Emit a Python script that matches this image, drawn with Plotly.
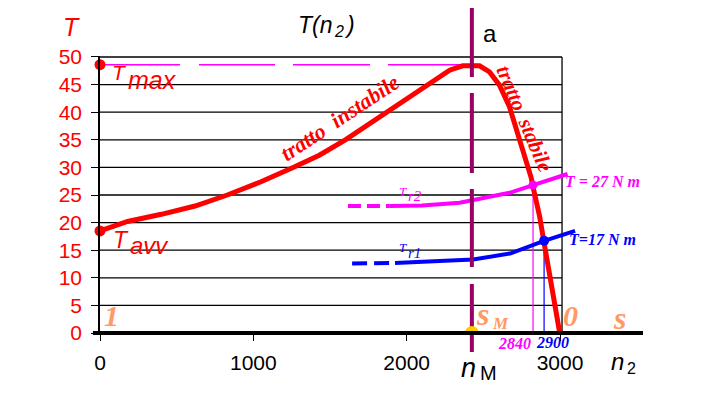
import plotly.graph_objects as go

# ---------------- data ----------------
n_curve = [0, 180, 400, 620, 830, 1050, 1270, 1430, 1600, 1760, 1840, 1970, 2150, 2280,
           2365, 2415, 2475, 2540, 2605, 2670, 2725, 2780, 2812, 2823, 2867, 2895, 2943, 2998]
T_curve = [18.5, 20.2, 21.5, 23.0, 25.0, 27.4, 30.1, 32.2, 35.0, 38.0, 39.5, 41.9, 45.2, 47.6,
           48.4, 48.5, 48.4, 47.3, 44.9, 41.0, 36.2, 31.3, 28.1, 26.6, 21.1, 16.5, 8.4, 0.0]

n_tr2_dash = [1617, 1890]
T_tr2_dash = [23.0, 23.0]
n_tr2 = [1890, 2100, 2345, 2430, 2671, 2824, 3049]
T_tr2 = [23.0, 23.1, 23.6, 24.1, 25.4, 26.8, 28.8]

n_tr1_dash = [1644, 1924]
T_tr1_dash = [12.6, 12.7]
n_tr1 = [1924, 2087, 2348, 2433, 2674, 2896, 3098]
T_tr1 = [12.7, 12.9, 13.1, 13.3, 14.4, 16.7, 18.5]

op2 = (2824, 26.8)   # working point with Tr2
op1 = (2896, 16.7)   # working point with Tr1
op_labels = ["2840", "2900"]

T_max = 48.6
T_avv = 18.5
n_M = 2425
n_edge = 3013

x_ticks = [0, 1000, 2000, 3000]
y_ticks = [0, 5, 10, 15, 20, 25, 30, 35, 40, 45, 50]

RED = "#FF0000"
MAG = "#FF00FF"
BLUE = "#0000FF"
PURPLE = "#990066"
ORANGE = "#FF9966"
YELLOW = "#FFCC00"
SANS = "Liberation Sans"
SERIF = "Liberation Serif"

fig = go.Figure()

# Tmax dashed horizontal reference
fig.add_trace(go.Scatter(x=[0, n_M], y=[T_max, T_max], mode="lines",
                         line=dict(color=MAG, width=1.5, dash="80px,19px,76px,18px,77px,18px,84px,60px"),
                         hoverinfo="skip"))
# thin verticals from working points
fig.add_trace(go.Scatter(x=[op2[0], op2[0]], y=[op2[1], 0], mode="lines",
                         line=dict(color=MAG, width=1.2), hoverinfo="skip"))
fig.add_trace(go.Scatter(x=[op1[0], op1[0]], y=[op1[1], 0], mode="lines",
                         line=dict(color=BLUE, width=1.2), hoverinfo="skip"))

# load torque curves
fig.add_trace(go.Scatter(x=n_tr2_dash, y=T_tr2_dash, mode="lines",
                         line=dict(color=MAG, width=4, dash="13px,6px"), hoverinfo="skip"))
fig.add_trace(go.Scatter(x=n_tr2, y=T_tr2, mode="lines",
                         line=dict(color=MAG, width=4), hoverinfo="skip"))
fig.add_trace(go.Scatter(x=n_tr1_dash, y=T_tr1_dash, mode="lines",
                         line=dict(color=BLUE, width=4, dash="15px,7px"), hoverinfo="skip"))
fig.add_trace(go.Scatter(x=n_tr1, y=T_tr1, mode="lines",
                         line=dict(color=BLUE, width=4), hoverinfo="skip"))

# motor torque curve
fig.add_trace(go.Scatter(x=n_curve, y=T_curve, mode="lines",
                         line=dict(color=RED, width=5), hoverinfo="skip"))

# points
fig.add_trace(go.Scatter(x=[0, 0], y=[T_max, T_avv], mode="markers",
                         marker=dict(color=RED, size=11), cliponaxis=False, hoverinfo="skip"))
fig.add_trace(go.Scatter(x=[op2[0]], y=[op2[1]], mode="markers",
                         marker=dict(color=MAG, size=9), cliponaxis=False, hoverinfo="skip"))
fig.add_trace(go.Scatter(x=[op1[0]], y=[op1[1]], mode="markers",
                         marker=dict(color=BLUE, size=10), cliponaxis=False, hoverinfo="skip"))
fig.add_trace(go.Scatter(x=[op2[0], op1[0]], y=[-0.4, -0.4], mode="markers",
                         marker=dict(color=[MAG, BLUE], size=9, symbol="triangle-down"),
                         cliponaxis=False, hoverinfo="skip"))

shapes = []
for t in y_ticks[1:]:
    shapes.append(dict(type="line", xref="x", yref="y", x0=0, x1=n_edge, y0=t, y1=t,
                       line=dict(color="black", width=1.3), layer="below"))
shapes.append(dict(type="line", xref="x", yref="y", x0=n_edge, x1=n_edge, y0=0, y1=50,
                   line=dict(color="black", width=1.3), layer="below"))
# nM vertical dashed line
shapes.append(dict(type="line", xref="x", yref="paper", x0=n_M, x1=n_M, y0=1.173, y1=-0.0686,
                   line=dict(color=PURPLE, width=4, dash="69px,16px,80px,16px,78px,17px,68px,100px")))
# yellow half disc at nM
shapes.append(dict(type="circle", xref="x", yref="y", xsizemode="pixel", ysizemode="pixel",
                   xanchor=n_M, yanchor=0, x0=-7, x1=7, y0=-7, y1=7,
                   fillcolor=YELLOW, line=dict(width=0)))
# thick abscissa line
shapes.append(dict(type="line", xref="paper", yref="paper", x0=-0.013, x1=1.0, y0=0, y1=0,
                   line=dict(color="black", width=4)))

ann = []
def A(text, x, y, size, color="black", family=SANS, angle=0, xanchor="center", ref="data"):
    xr, yr = ("x", "y") if ref == "data" else ("paper", "paper")
    ann.append(dict(text=text, x=x, y=y, xref=xr, yref=yr, showarrow=False,
                    textangle=angle, xanchor=xanchor, yanchor="middle",
                    font=dict(family=family, size=size, color=color)))

def P(text, x, y, size, color="black", family=SANS, xanchor="center"):
    A(text, x, y, size, color, family, xanchor=xanchor, ref="paper")

def bi(s):
    return f"<b><i>{s}</i></b>"

def it(s):
    return f"<i>{s}</i>"

# axis name and title
P(it("T"), -0.0534, 1.105, 25, RED)
P(it("T(n"), 0.4328, 1.112, 23, "black", xanchor="right")
P(it("2"), 0.4273, 1.090, 16, "black", xanchor="left")
P(it(")"), 0.4457, 1.112, 23, "black", xanchor="left")
P("a", 0.718, 1.083, 24, "black")

# Tmax / Tavv
P(it("T"), 0.0534, 0.9422, 21, RED, xanchor="right")
P(it("max"), 0.0479, 0.9134, 25, RED, xanchor="left")
P(it("T"), 0.0571, 0.3357, 23, RED, xanchor="right")
P(it("avv"), 0.0516, 0.3141, 24, RED, xanchor="left")

# slip labels
A(bi("1"), 72, 3.1, 30, ORANGE, SERIF)
P(bi("s"), 0.7201, 0.068, 32, ORANGE, SERIF, xanchor="right")
P(bi("M"), 0.7190, 0.033, 17, ORANGE, SERIF, xanchor="left")
A(bi("0"), 3065, 3.1, 30, ORANGE, SERIF)
A(bi("s"), 3385, 2.7, 32, ORANGE, SERIF)

# working point speeds
P(bi(op_labels[0]), 0.764, -0.038, 16, MAG, SERIF)
P(bi(op_labels[1]), 0.834, -0.035, 16, BLUE, SERIF)

# nM and n2
P(it("n"), 0.6961, -0.1249, 27, "black", xanchor="right")
P("M", 0.6961, -0.1444, 20, "black", xanchor="left")
P(it("n"), 0.9687, -0.1040, 24, "black", xanchor="right")
P("2", 0.9669, -0.1282, 16, "black", xanchor="left")

# load torque labels
P(it("T"), 0.5691, 0.5126, 13, MAG, SERIF, xanchor="right")
P(it("r2"), 0.5635, 0.4928, 15, MAG, SERIF, xanchor="left")
P(it("T"), 0.5691, 0.3087, 13, BLUE, SERIF, xanchor="right")
P(it("r1"), 0.5635, 0.2888, 15, BLUE, SERIF, xanchor="left")
A(bi("T = 27 N m"), 3020, 27.4, 16, MAG, SERIF, xanchor="left")
A(bi("T=17 N m"), 3046, 17.0, 16, BLUE, SERIF, xanchor="left")

# curve branch labels
A(bi("tratto  instabile"), 1565, 39.1, 22, RED, SERIF, angle=-33.6)
A(bi("tratto  stabile"), 2765, 38.9, 21, RED, SERIF, angle=67)

# page body has an 8px margin, so the figure is shifted by 8px inside the window
fig.update_layout(
    width=705, height=389, autosize=False,
    margin=dict(l=92, r=70, t=48, b=64, pad=0),
    paper_bgcolor="white", plot_bgcolor="white",
    showlegend=False,
    shapes=shapes, annotations=ann,
    xaxis=dict(range=[0, 3541], tickvals=x_ticks, ticktext=[str(v) for v in x_ticks],
               showgrid=False, zeroline=False, showline=False, automargin=False,
               ticks="outside", ticklen=7, tickwidth=1.3, tickcolor="black",
               tickfont=dict(family=SANS, size=21, color="black"), ticklabelstandoff=4),
    yaxis=dict(range=[0, 50.18], tickvals=y_ticks, ticktext=[str(v) for v in y_ticks],
               showgrid=False, zeroline=False, showline=True, linecolor="black", linewidth=1.5,
               automargin=False,
               ticks="outside", ticklen=7, tickwidth=1.3, tickcolor="black",
               tickfont=dict(family=SANS, size=21, color=RED), ticklabelstandoff=5),
)

fig.write_html("out.html")
